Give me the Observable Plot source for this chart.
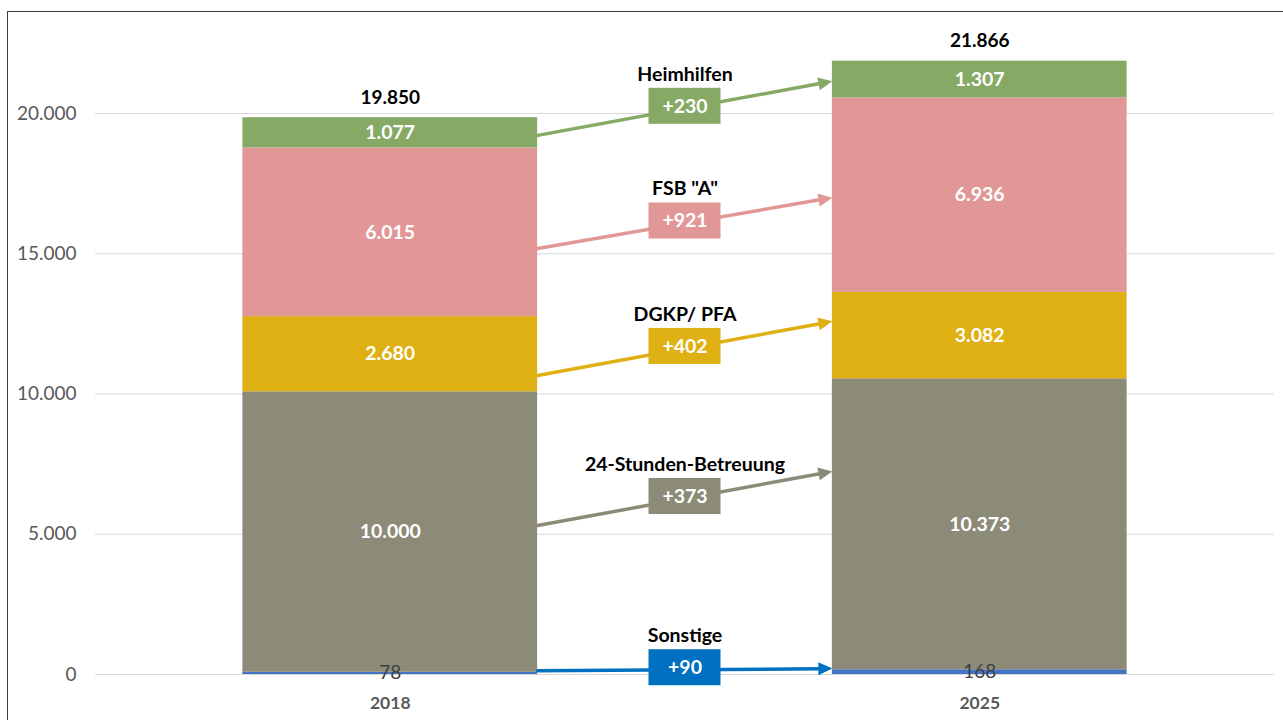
<!DOCTYPE html>
<html><head><meta charset="utf-8">
<script src="https://cdn.jsdelivr.net/npm/d3@7"></script>
<script src="https://cdn.jsdelivr.net/npm/@observablehq/plot@0.6"></script>
<style>
html,body{margin:0;padding:0;background:#fff;overflow:hidden}
#wrap{position:relative;width:1283px;height:720px}
#chart svg{display:block}
#frame{position:absolute;left:7px;top:11px;width:1400px;height:800px;border-left:1px solid #3c3c3c;border-top:1px solid #3c3c3c;pointer-events:none}
</style></head><body>
<div id="wrap"><div id="chart"></div><div id="frame"></div></div>
<script>
// ---- data ----
const years = ["2018", "2025"];
const categories = ["Sonstige", "24-Stunden-Betreuung", "DGKP/ PFA", "FSB \"A\"", "Heimhilfen"];
const values2018 = [78, 10000, 2680, 6015, 1077];
const values2025 = [168, 10373, 3082, 6936, 1307];
const totals = [19850, 21866];
const deltaLabels = ["+90", "+373", "+402", "+921", "+230"];
const arrowFrom = [130, 5310, 10660, 15190, 19220];
const arrowTo = [210, 7240, 12590, 17000, 21150];
const yTicks = [0, 5000, 10000, 15000, 20000];
const segColors = ["#4472C4", "#8C8B77", "#DFB013", "#E29797", "#86AA65"];
const arrowColors = ["#0070C0", "#8C8B77", "#DFB013", "#E29797", "#86AA65"];

// ---- layout ----
const W = 1283, H = 720, mL = 95, mR = 9, mT = 113, mB = 46;
const xDomain = [-0.5, 1.5], yDomain = [0, 20000];
const xs = d3.scaleLinear(xDomain, [mL, W - mR]);
const ys = d3.scaleLinear(yDomain, [H - mB, mT]);
const fmt = d3.formatLocale({decimal: ",", thousands: ".", grouping: [3], currency: ["", "€"]}).format(",d");
const FONT = "Lato, 'Open Sans', sans-serif";

const segs = [];
[values2018, values2025].forEach((vals, i) => {
  let base = 0;
  vals.forEach((v, k) => { segs.push({i, k, v, y1: base, y2: base + v}); base += v; });
});
const arrows = categories.map((c, k) => {
  const dxp = xs(0.75) - xs(0.25);
  const dyp = ys(arrowTo[k]) - ys(arrowFrom[k]);
  return {k, name: c, from: arrowFrom[k], to: arrowTo[k], mid: (arrowFrom[k] + arrowTo[k]) / 2,
          angle: Math.atan2(dxp, -dyp) * 180 / Math.PI, label: deltaLabels[k], color: arrowColors[k]};
});
const tot = years.map((y, i) => ({i, total: totals[i]}));

const chart = Plot.plot({
  width: W, height: H,
  marginLeft: mL, marginRight: mR, marginTop: mT, marginBottom: mB,
  style: {fontFamily: FONT, background: "transparent"},
  x: {domain: xDomain},
  y: {domain: yDomain},
  marks: [
    Plot.ruleY(yTicks, {stroke: "#D9D9D9", strokeWidth: 1}),
    Plot.axisY(yTicks, {tickSize: 0, tickPadding: 19, tickFormat: fmt, fontSize: 19, fill: "#595959", label: null}),
    Plot.axisX([0, 1], {tickSize: 0, tickPadding: 22, tickFormat: i => years[i], fontSize: 17.5, fontWeight: "bold", fill: "#595959", label: null}),
    Plot.rect(segs, {x1: d => d.i - 0.25, x2: d => d.i + 0.25, y1: "y1", y2: "y2", fill: d => segColors[d.k]}),
    Plot.text(segs.filter(d => d.k > 0), {x: "i", y: d => (d.y1 + d.y2) / 2, text: d => fmt(d.v), fill: "white", fontWeight: "bold", fontSize: 19.5}),
    Plot.text(segs.filter(d => d.k === 0), {x: "i", y: d => (d.y1 + d.y2) / 2, text: d => fmt(d.v), fill: "#404040", fontSize: 19}),
    Plot.text(tot, {x: "i", y: "total", dy: -20, text: d => fmt(d.total), fill: "black", fontWeight: "bold", fontSize: 19}),
    Plot.arrow(arrows, {x1: () => 0.25, y1: "from", x2: () => 0.75, y2: "to", stroke: d => d.color, strokeWidth: 3.5, headLength: 0, insetEnd: 10}),
    Plot.vector(arrows, {x: () => 0.75, y: "to", rotate: "angle", length: 14, r: 6.5, shape: "spike", anchor: "end", fill: d => d.color, stroke: "none"}),
    Plot.rect(arrows, {x1: () => 0.5, x2: () => 0.5, y1: "mid", y2: "mid", insetLeft: -36, insetRight: -36, insetTop: -20, insetBottom: -16, fill: d => d.color}),
    Plot.text(arrows, {x: () => 0.5, y: "mid", dy: -2, text: "label", fill: "white", fontWeight: "bold", fontSize: 19.5}),
    Plot.text(arrows, {x: () => 0.5, y: "mid", dy: -34, text: "name", fill: "black", fontWeight: "bold", fontSize: 19.5})
  ]
});
document.getElementById("chart").appendChild(chart);
</script>
</body></html>
